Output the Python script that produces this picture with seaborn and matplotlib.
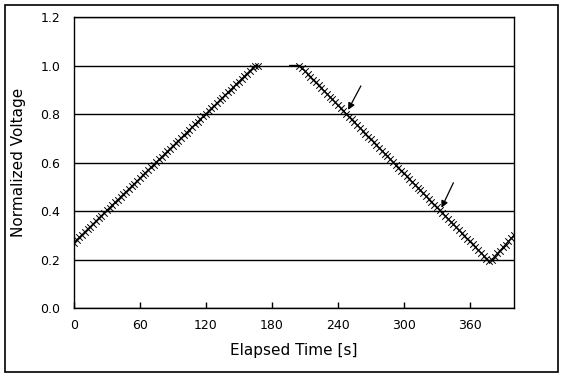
import matplotlib
matplotlib.use("Agg")
import matplotlib.pyplot as plt
from matplotlib.patches import Rectangle
import pandas as pd
import seaborn as sns

# ── 数据 ─────────────────────────────────────────────────
rise_t = [0, 2.5, 5, 7.5, 10, 12.5, 15, 17.5, 20, 22.5, 25, 27.5, 30, 32.5,
          35, 37.5, 40, 42.5, 45, 47.5, 50, 52.5, 55, 57.5, 60, 62.5, 65,
          67.5, 70, 72.5, 75, 77.5, 80, 82.5, 85, 87.5, 90, 92.5, 95, 97.5,
          100, 102.5, 105, 107.5, 110, 112.5, 115, 117.5, 120, 122.5, 125,
          127.5, 130, 132.5, 135, 137.5, 140, 142.5, 145, 147.5, 150, 152.5,
          155, 157.5, 160, 162.5, 165, 167]
rise_v = [0.270, 0.281, 0.292, 0.303, 0.314, 0.325, 0.336, 0.347, 0.358,
          0.370, 0.381, 0.392, 0.403, 0.414, 0.425, 0.436, 0.447, 0.458,
          0.469, 0.480, 0.491, 0.502, 0.513, 0.524, 0.535, 0.547, 0.558,
          0.569, 0.580, 0.591, 0.602, 0.613, 0.624, 0.635, 0.646, 0.657,
          0.668, 0.679, 0.690, 0.701, 0.712, 0.723, 0.735, 0.746, 0.757,
          0.768, 0.779, 0.790, 0.801, 0.812, 0.823, 0.834, 0.845, 0.856,
          0.867, 0.878, 0.889, 0.900, 0.911, 0.923, 0.934, 0.945, 0.956,
          0.967, 0.978, 0.989, 1.000, 1.000]

fall_t = [196, 205, 207.5, 210, 212.5, 215, 217.5, 220, 222.5, 225, 227.5,
          230, 232.5, 235, 237.5, 240, 242.5, 245, 247.5, 250, 252.5, 255,
          257.5, 260, 262.5, 265, 267.5, 270, 272.5, 275, 277.5, 280, 282.5,
          285, 287.5, 290, 292.5, 295, 297.5, 300, 302.5, 305, 307.5, 310,
          312.5, 315, 317.5, 320, 322.5, 325, 327.5, 330, 332.5, 335, 337.5,
          340, 342.5, 345, 347.5, 350, 352.5, 355, 357.5, 360, 362.5, 365,
          367.5, 370, 372.5, 375, 377.5, 380, 382.5, 385, 387.5, 390, 392.5,
          395, 397.5, 400]
fall_v = [1.000, 1.000, 0.988, 0.977, 0.965, 0.953, 0.942, 0.930, 0.918,
          0.906, 0.895, 0.883, 0.871, 0.860, 0.848, 0.836, 0.824, 0.813,
          0.801, 0.789, 0.778, 0.766, 0.754, 0.743, 0.731, 0.719, 0.707,
          0.696, 0.684, 0.672, 0.661, 0.649, 0.637, 0.626, 0.614, 0.602,
          0.590, 0.579, 0.567, 0.555, 0.544, 0.532, 0.520, 0.509, 0.497,
          0.485, 0.473, 0.462, 0.450, 0.438, 0.427, 0.415, 0.403, 0.392,
          0.380, 0.368, 0.356, 0.345, 0.333, 0.321, 0.310, 0.298, 0.286,
          0.275, 0.263, 0.251, 0.239, 0.228, 0.216, 0.204, 0.193, 0.200,
          0.212, 0.225, 0.237, 0.250, 0.262, 0.275, 0.287, 0.300]

x_ticks = [0, 60, 120, 180, 240, 300, 360]
y_ticks = [0.0, 0.2, 0.4, 0.6, 0.8, 1.0, 1.2]

# 箭头 (tail, head)
arrows = [((262, 0.926), (248, 0.807)),
          ((346, 0.527), (333, 0.403))]

df = pd.concat([
    pd.DataFrame({"t": rise_t, "v": rise_v, "seg": "rise"}),
    pd.DataFrame({"t": fall_t, "v": fall_v, "seg": "fall"}),
], ignore_index=True)

sns.set_style("white")
plt.rcParams["font.family"] = ["DejaVu Sans"]
plt.rcParams["text.color"] = "black"
plt.rcParams["axes.labelcolor"] = "black"
plt.rcParams["xtick.color"] = "black"
plt.rcParams["ytick.color"] = "black"

fig = plt.figure(figsize=(5.67, 3.78), dpi=100)
ax = fig.add_axes([0.1305, 0.185, 0.776, 0.77])

sns.lineplot(data=df, x="t", y="v", units="seg", estimator=None,
             color="black", linewidth=1.0, ax=ax, sort=False)
# 标记（平台段起点无标记）
mk = df[~((df["seg"] == "fall") & (df["t"] == 196))]
sns.scatterplot(data=mk, x="t", y="v", marker="x", color="black",
                s=22, linewidth=0.7, ax=ax, zorder=3)

for (tx, ty), (hx, hy) in arrows:
    ax.annotate("", xy=(hx, hy), xytext=(tx, ty),
                arrowprops=dict(arrowstyle="-|>", color="black", lw=0.9,
                                mutation_scale=10))

ax.set_xlim(0, 400)
ax.set_ylim(0, 1.2)
ax.set_xticks(x_ticks)
ax.set_yticks(y_ticks)
ax.set_yticklabels([f"{v:.1f}" for v in y_ticks])
ax.grid(axis="y", color="black", linewidth=1.0)
ax.set_axisbelow(True)
ax.tick_params(axis="x", direction="in", length=4, width=1, labelsize=9,
               pad=8, bottom=True, colors="black")
ax.tick_params(axis="y", length=0, labelsize=9, pad=10, colors="black")
for sp in ax.spines.values():
    sp.set_color("black")
    sp.set_linewidth(1.0)

ax.set_xlabel("Elapsed Time [s]", fontsize=11, labelpad=8, color="black")
ax.set_ylabel("Normalized Voltage", fontsize=11, labelpad=10, color="black")

fig.add_artist(Rectangle((5 / 567, 6 / 378), 553 / 567, 367 / 378,
                         transform=fig.transFigure, fill=False,
                         edgecolor="black", linewidth=1.2))

fig.savefig("out.png", dpi=100)
